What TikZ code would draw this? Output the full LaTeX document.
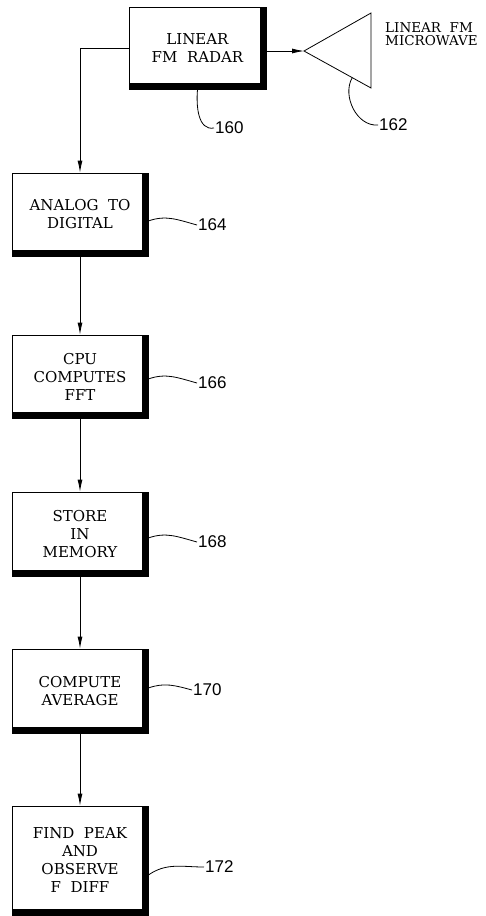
\documentclass[tikz,border=0pt]{standalone}
\usepackage{fontspec}
\newfontfamily\numfont{Liberation Sans}
\newfontfamily\boxfont{DejaVu Serif}
\usetikzlibrary{arrows.meta,calc}
\tikzset{
  blk/.style={draw, line width=0.8pt, align=center, minimum width=136pt,
              minimum height=83pt, inner sep=0pt, font=\boxfont\fontsize{15}{18}\selectfont},
  num/.style={anchor=west, inner sep=1pt, font=\numfont\fontsize{17}{17}\selectfont},
  flow/.style={-{Latex[length=12pt,width=5pt]}, line width=0.8pt},
  lead/.style={line width=0.8pt},
}

\begin{document}
\begin{tikzpicture}[x=1pt,y=1pt]
  \useasboundingbox (0,0) rectangle (486,-916);
  \node[blk, minimum width=137pt, minimum height=82pt] (radar) at (197.5,-48) {LINEAR\\ FM~~RADAR};
  \node[blk] (adc) at (80,-214.5) {ANALOG~~TO\\ DIGITAL};
  \node[blk] (fft) at (80,-376.5) {CPU\\ COMPUTES\\ FFT};
  \node[blk, minimum height=84pt] (mem) at (80,-534) {STORE\\ IN\\ MEMORY};
  \node[blk, minimum height=84pt] (avg) at (80,-691) {COMPUTE\\ AVERAGE};
  \node[blk, minimum height=109pt] (peak) at (80,-860.5) {FIND~~PEAK\\ AND\\ OBSERVE\\ F~~DIFF};
  % thick right and bottom edges
  \foreach \n in {radar,adc,fft,mem,avg,peak}{
    \fill ([xshift=-6pt]\n.north east) rectangle (\n.south east);
    \fill (\n.south west) rectangle ([yshift=6pt]\n.south east);
  }
  % antenna
  \coordinate (horn) at (304,-51);
  \coordinate (horntop) at (371,-13);
  \coordinate (hornbot) at (371,-88);
  \draw[lead] (horn) -- (horntop) -- (hornbot) -- cycle;
  \node[anchor=west, align=left, inner sep=0pt, font=\boxfont\fontsize{13.5}{13}\selectfont] (hornlbl) at (385,-34) {LINEAR~~FM\\MICROWAVE};
  % reference numbers
  \node[num] (n160) at (214,-128) {160};
  \node[num] (n162) at (378,-125) {162};
  \node[num] (n164) at (197,-225) {164};
  \node[num] (n166) at (197,-383) {166};
  \node[num] (n168) at (197,-542) {168};
  \node[num] (n170) at (192,-690) {170};
  \node[num] (n172) at (204,-867) {172};
  \draw[lead] (radar.south) to[out=-95,in=190] (n160.west);
  \draw[lead] ($(horn)!0.72!(hornbot)$) to[out=-120,in=185] (n162.west);
  \draw[lead] ([yshift=-6.5pt]adc.east) to[out=20,in=165] (n164.west);
  \draw[lead] ([yshift=-2.5pt]fft.east) to[out=20,in=165] (n166.west);
  \draw[lead] ([yshift=-4pt]mem.east) to[out=20,in=165] (n168.west);
  \draw[lead] ([yshift=3pt]avg.east) to[out=20,in=165] (n170.west);
  \draw[lead] ([yshift=-14.5pt]peak.east) to[out=35,in=180] (n172.west);
  % signal flow
  \draw[flow] (radar.east |- horn) -- (horn);
  \draw[flow] (radar.west) -| (adc.north);
  \draw[flow] (adc) -- (fft);
  \draw[flow] (fft) -- (mem);
  \draw[flow] (mem) -- (avg);
  \draw[flow] (avg) -- (peak);
\end{tikzpicture}
\end{document}
